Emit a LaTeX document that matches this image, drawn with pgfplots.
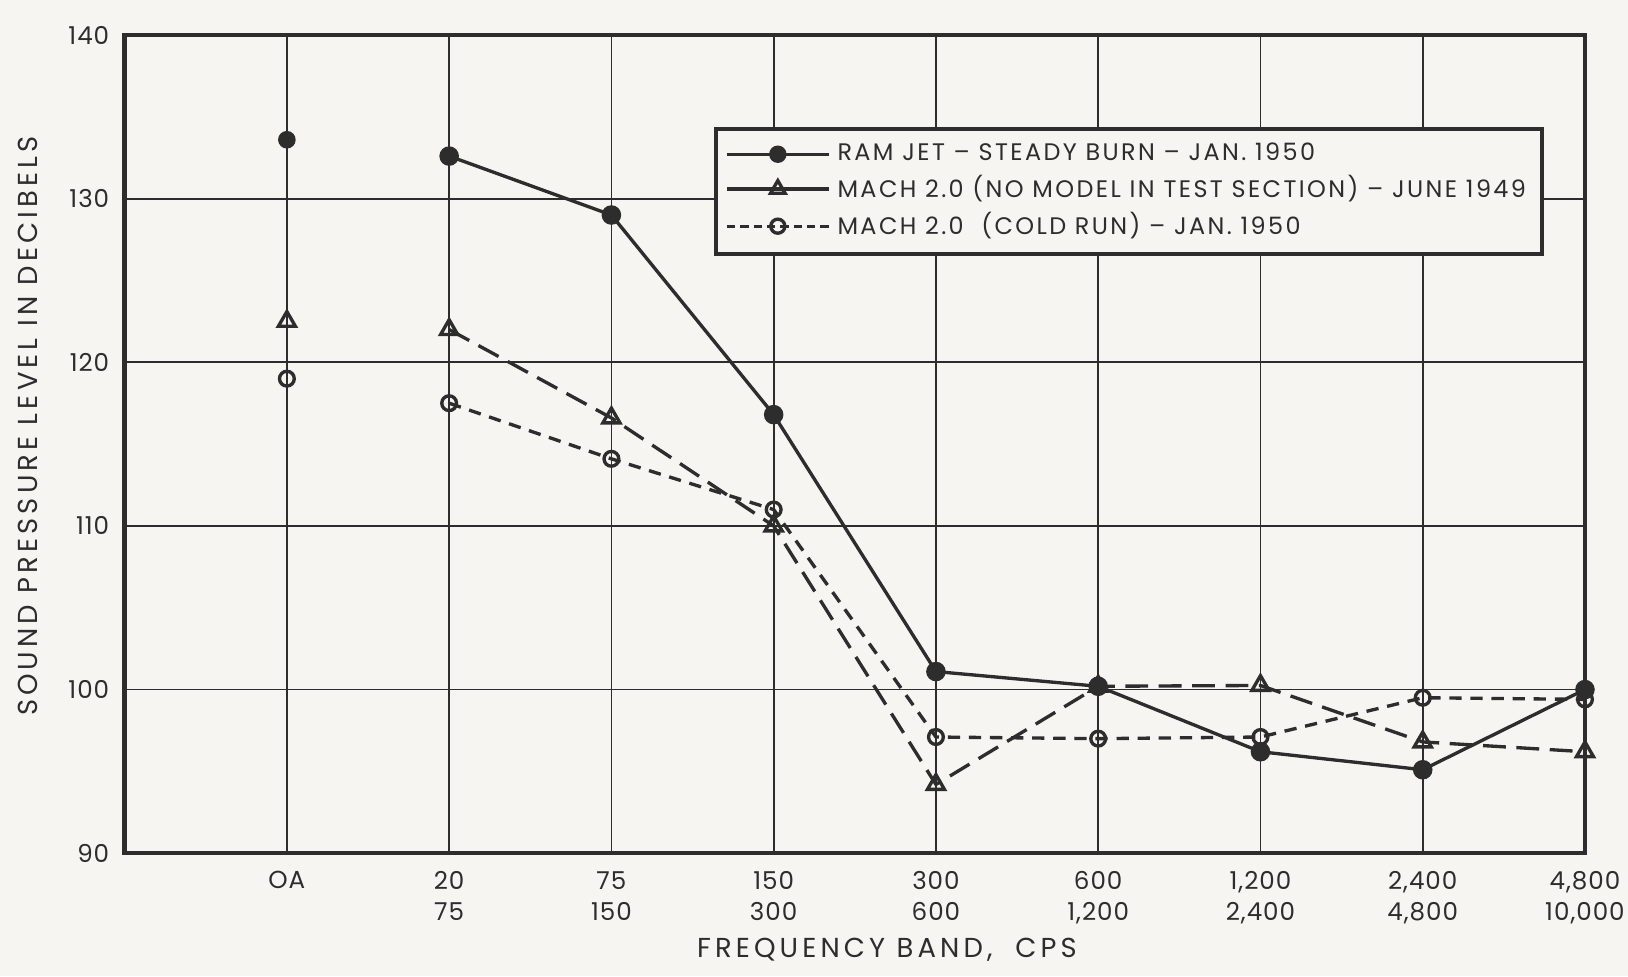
\documentclass[border=0pt]{standalone}
\usepackage{pgfplots}
\pgfplotsset{compat=1.18}
\usepackage{fontspec}
\setmainfont{Poppins}[LetterSpace=10]
\newfontfamily\labfont{Poppins}[LetterSpace=15]
\newfontfamily\tickfont{Poppins}[LetterSpace=4]
\definecolor{ink}{RGB}{45,45,45}
\definecolor{paper}{RGB}{246,245,241}
\begin{document}
\begin{tikzpicture}
\path[use as bounding box, fill=paper] (-1.246cm,-1.23cm) rectangle (15.03cm,8.53cm);
\begin{axis}[
  scale only axis, width=14.6cm, height=8.18cm,
  at={(0,0)}, anchor=south west,
  xmin=-1, xmax=8, ymin=90, ymax=140,
  xtick={0,...,8},
  xticklabels={{OA},{20\\75},{75\\150},{150\\300},{300\\600},{600\\1,200},{1,200\\2,400},{2,400\\4,800},{4,800\\10,000}},
  ytick={90,100,...,140},
  grid=major, major grid style={ink, line width=0.5pt},
  axis line style={ink, line width=1.25pt},
  major tick length=0pt,
  tick label style={font=\tickfont\fontsize{7.0}{8.8}\selectfont, text=ink},
  xticklabel style={align=center, yshift=-0.6mm},
  yticklabel style={xshift=-0.3mm},
  /pgf/number format/assume math mode=true,
  /pgf/number format/1000 sep={},
  xlabel={FREQUENCY BAND,\ \ CPS},
  ylabel={SOUND PRESSURE LEVEL IN DECIBELS},
  label style={font=\labfont\fontsize{7.8}{9}\selectfont, text=ink},
  xlabel style={at={(axis description cs:0.522,-0.118)}, anchor=center},
  ylabel style={at={(axis description cs:-0.066,0.522)}, anchor=center},
  legend style={at={(axis description cs:0.972,0.888)}, anchor=north east,
    draw=ink, line width=1.2pt, fill=paper, text=ink,
    font=\fontsize{6.8}{8}\selectfont, row sep=-0.45mm,
    inner xsep=0.9mm, inner ysep=0.7mm},
  legend cell align=left,
  legend image code/.code={\draw[mark repeat=2, mark phase=2, #1] plot coordinates {(0cm,0cm) (0.51cm,0cm) (1.02cm,0cm)};},
]
% legend images
\addlegendimage{ink, line width=0.95pt, mark=*, mark size=2.0pt, mark options={solid, fill=ink}}
\addlegendentry{RAM JET -- STEADY BURN -- JAN. 1950}
\addlegendimage{ink, line width=0.95pt, mark=triangle, mark size=2.4pt, mark options={solid, fill=paper}}
\addlegendentry{MACH 2.0 (NO MODEL IN TEST SECTION) -- JUNE 1949}
\addlegendimage{ink, line width=0.95pt, dash pattern=on 2.4pt off 1.4pt, mark=o, mark size=2.0pt, mark options={solid, fill=paper}}
\addlegendentry{MACH 2.0 \ (COLD RUN) -- JAN. 1950}

% Mach 2.0 no model (long dashes)
\addplot[forget plot, ink, line width=0.95pt, dash pattern=on 6.5pt off 3pt, mark=triangle, mark size=2.8pt, mark options={solid, fill=paper}]
  coordinates {(1,122.0) (2,116.6) (3,110.0) (4,94.2) (5,100.2) (6,100.25) (7,96.8) (8,96.2)};
\addplot[forget plot, only marks, ink, mark=triangle, mark size=2.8pt, mark options={solid, line width=0.95pt, fill=paper}]
  coordinates {(0,122.5)};
% Mach 2.0 cold run (short dashes)
\addplot[forget plot, ink, line width=0.95pt, dash pattern=on 3.5pt off 2.5pt, mark=o, mark size=2.1pt, mark options={solid, fill=paper}]
  coordinates {(1,117.5) (2,114.1) (3,111.0) (4,97.1) (5,97.0) (6,97.1) (7,99.5) (8,99.4)};
\addplot[forget plot, only marks, ink, mark=o, mark size=2.1pt, mark options={solid, line width=0.95pt, fill=paper}]
  coordinates {(0,119.0)};
% Ram jet (solid)
\addplot[forget plot, ink, line width=0.95pt, mark=*, mark size=2.3pt, mark options={solid, fill=ink}]
  coordinates {(1,132.6) (2,129.0) (3,116.8) (4,101.1) (5,100.2) (6,96.2) (7,95.1) (8,100.0)};
\addplot[forget plot, only marks, ink, mark=*, mark size=2.3pt, mark options={solid, fill=ink}]
  coordinates {(0,133.6)};
\end{axis}
\end{tikzpicture}
\end{document}
